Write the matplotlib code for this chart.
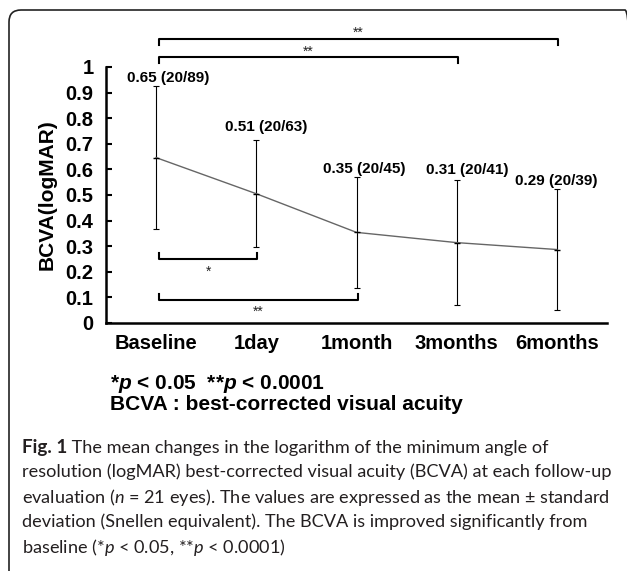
import matplotlib
matplotlib.use("Agg")
import matplotlib.pyplot as plt
from matplotlib.patches import FancyBboxPatch
from matplotlib.transforms import IdentityTransform

plt.rcParams['font.family'] = 'Liberation Sans'
plt.rcParams['mathtext.fontset'] = 'custom'
plt.rcParams['mathtext.rm'] = 'Liberation Sans:bold'
plt.rcParams['mathtext.it'] = 'Liberation Sans:bold:italic'
plt.rcParams['mathtext.sf'] = 'Lato:italic'

# data
timepoints = ["Baseline", "1day", "1month", "3months", "6months"]
mean_logmar = [0.646, 0.505, 0.354, 0.314, 0.287]
sd_logmar = [0.28, 0.21, 0.217, 0.245, 0.236]
point_labels = ["0.65 (20/89)", "0.51 (20/63)", "0.35 (20/45)", "0.31 (20/41)", "0.29 (20/39)"]
yticks = [0, 0.1, 0.2, 0.3, 0.4, 0.5, 0.6, 0.7, 0.8, 0.9, 1]
ytick_labels = ["0", "0.1", "0.2", "0.3", "0.4", "0.5", "0.6", "0.7", "0.8", "0.9", "1"]
# significance vs baseline: (start, end, stars)
sig_pairs = [(0, 1, "*"), (0, 2, "**"), (0, 3, "**"), (0, 4, "**")]

# layout bits
label_dx = [0.12, 0.10, 0.08, 0.11, -0.01]
label_dy = [0.03, 0.05, 0.03, 0.04, 0.03]
bracket_y = [0.249, 0.09, 1.039, 1.109]
bracket_dir = [1, 1, -1, -1]    # +1 ticks go up, -1 ticks go down
star_y = [0.184, 0.027, 1.043, 1.117]

fig = plt.figure(figsize=(6.27, 5.71), dpi=100)
ax = fig.add_axes([106/627, 248/571, 501/627, 256/571])

x = list(range(len(timepoints)))
ax.plot(x, mean_logmar, color='#666666', lw=1, marker='_', ms=4, mec='black', zorder=3)
ax.errorbar(x, mean_logmar, yerr=sd_logmar, fmt='none', ecolor='black',
            elinewidth=0.8, capsize=2, capthick=0.8, zorder=2)

for i, lab in enumerate(point_labels):
    ax.text(i + label_dx[i], mean_logmar[i] + sd_logmar[i] + label_dy[i], lab,
            ha='center', va='center', fontsize=11, fontweight='bold')

for (a, b, stars), yb, d, ys in zip(sig_pairs, bracket_y, bracket_dir, star_y):
    x0, x1 = a + 0.03, b + 0.01
    ax.plot([x0, x0, x1, x1], [yb + d*0.025, yb, yb, yb + d*0.025],
            color='black', lw=1.5, clip_on=False)
    ax.text((x0 + x1) / 2, ys, stars, ha='center', va='baseline',
            fontsize=10, color='#222222')

ax.set_xlim(-0.5, 4.5)
ax.set_ylim(0, 1)
ax.set_yticks(yticks)
ax.set_yticklabels(ytick_labels)
ax.set_xticks(x)
ax.set_xticklabels(timepoints)
for s in ['top', 'right']:
    ax.spines[s].set_visible(False)
for s in ['left', 'bottom']:
    ax.spines[s].set_linewidth(1.8)
ax.tick_params(axis='y', direction='in', length=4, width=1.5, pad=9, labelsize=14.5)
ax.tick_params(axis='x', length=0, pad=8, labelsize=14.5)
for t in ax.get_xticklabels() + ax.get_yticklabels():
    t.set_fontweight('bold')
ax.set_ylabel("BCVA(logMAR)", fontsize=15, fontweight='bold')
ax.yaxis.set_label_coords(-0.098, 0.5)

fig.text(110/627, 1 - 384/571, r"*$p$ < 0.05  **$p$ < 0.0001", fontsize=15,
         fontweight='bold', va='center', ha='left')
fig.text(110/627, 1 - 405/571, "BCVA : best-corrected visual acuity", fontsize=15,
         fontweight='bold', va='center', ha='left')

# caption
cap_font = 'Lato'
cap_color = '#231f20'
cap_size = 13.1
cap_lines = [
    " The mean changes in the logarithm of the minimum angle of",
    "resolution (logMAR) best-corrected visual acuity (BCVA) at each follow-up",
    r"evaluation ($\mathsf{n}$ = 21 eyes). The values are expressed as the mean ± standard",
    "deviation (Snellen equivalent). The BCVA is improved significantly from",
    r"baseline (*$\mathsf{p}$ < 0.05, **$\mathsf{p}$ < 0.0001)",
]
cap_y = [447, 472, 497, 522, 547]
fig_lbl = fig.text(22/627, 1 - cap_y[0]/571, "Fig. 1", fontsize=cap_size + 0.5, family=cap_font,
                   fontweight='bold', color=cap_color, va='center', ha='left')
ax.annotate(cap_lines[0], xy=(1, 0), xycoords=fig_lbl, va='bottom', ha='left',
            fontsize=cap_size, family=cap_font, color=cap_color, annotation_clip=False)
for line, yy in zip(cap_lines[1:], cap_y[1:]):
    fig.text(22/627, 1 - yy/571, line, fontsize=cap_size, family=cap_font,
             color=cap_color, va='center', ha='left')

box = FancyBboxPatch((9, -30), 628, 591, boxstyle="round,pad=0,rounding_size=12",
                     transform=IdentityTransform(), fill=False, ec='#222222', lw=1.2)
fig.add_artist(box)

fig.savefig("out.png", dpi=100)
